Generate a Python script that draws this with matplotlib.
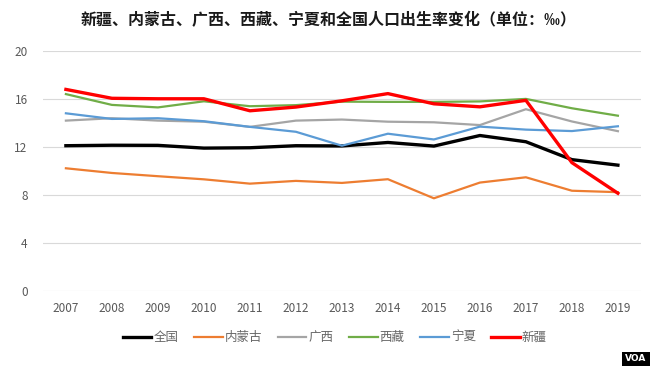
import matplotlib
matplotlib.use("Agg")
import matplotlib.pyplot as plt
from matplotlib.patches import Rectangle

plt.rcParams['font.family'] = ['Noto Sans CJK SC', 'DejaVu Sans']

years = [2007, 2008, 2009, 2010, 2011, 2012, 2013, 2014, 2015, 2016, 2017, 2018, 2019]
national = [12.10, 12.14, 12.13, 11.90, 11.93, 12.10, 12.08, 12.37, 12.07, 12.95, 12.43, 10.94, 10.48]
inner_mongolia = [10.22, 9.83, 9.56, 9.30, 8.94, 9.17, 9.00, 9.31, 7.72, 9.03, 9.47, 8.35, 8.23]
guangxi = [14.19, 14.39, 14.19, 14.10, 13.67, 14.19, 14.28, 14.10, 14.05, 13.82, 15.14, 14.12, 13.31]
tibet = [16.40, 15.50, 15.29, 15.80, 15.39, 15.48, 15.77, 15.75, 15.75, 15.79, 16.00, 15.22, 14.60]
ningxia = [14.80, 14.33, 14.39, 14.14, 13.67, 13.26, 12.10, 13.10, 12.62, 13.69, 13.44, 13.32, 13.72]
xinjiang = [16.79, 16.05, 16.01, 16.01, 15.01, 15.32, 15.84, 16.44, 15.59, 15.34, 15.88, 10.69, 8.14]

series_names = ['全国', '内蒙古', '广西', '西藏', '宁夏', '新疆']
series_values = [national, inner_mongolia, guangxi, tibet, ningxia, xinjiang]
colors = ['#000000', '#ED7D31', '#A5A5A5', '#70AD47', '#5B9BD5', '#FF0000']
widths = [2.4, 1.6, 1.6, 1.6, 1.6, 2.4]

title = '新疆、内蒙古、广西、西藏、宁夏和全国人口出生率变化（单位：‰）'
yticks = [0, 4, 8, 12, 16, 20]

fig = plt.figure(figsize=(6.5, 3.66), dpi=100)
ax = fig.add_axes([0.066, 0.205, 0.92, 0.656])

for name, vals, c, w in zip(series_names, series_values, colors, widths):
    ax.plot(years, vals, color=c, lw=w, label=name, solid_joinstyle='round')

ax.set_xlim(years[0] - 0.5, years[-1] + 0.5)
ax.set_ylim(0, 20)
ax.set_yticks(yticks)
ax.set_xticks(years)
ax.set_xticklabels([str(y) for y in years])
ax.grid(axis='y', color='#D9D9D9', lw=0.8)
ax.set_axisbelow(True)
for s in ax.spines.values():
    s.set_visible(False)
ax.tick_params(length=0, labelsize=8.5, labelcolor='#595959')
ax.tick_params(axis='x', pad=8)
ax.tick_params(axis='y', pad=11)

fig.text(0.505, 0.945, title, ha='center', va='center', fontsize=11.5, fontweight='bold', color='#1a1a1a')

leg = fig.legend(loc='center', bbox_to_anchor=(0.515, 0.078), ncol=6, frameon=False,
                 fontsize=9, handlelength=2.3, handletextpad=0.15, columnspacing=1.25)
for t in leg.get_texts():
    t.set_color('#666666')

fig.patches.append(Rectangle((0.957, 0.0), 0.043, 0.038, transform=fig.transFigure,
                             facecolor='black', edgecolor='none'))
fig.text(0.978, 0.021, 'VOA', ha='center', va='center', fontsize=6.5, fontweight='bold',
         color='white', family='DejaVu Sans')

fig.savefig('out.png', dpi=100)
